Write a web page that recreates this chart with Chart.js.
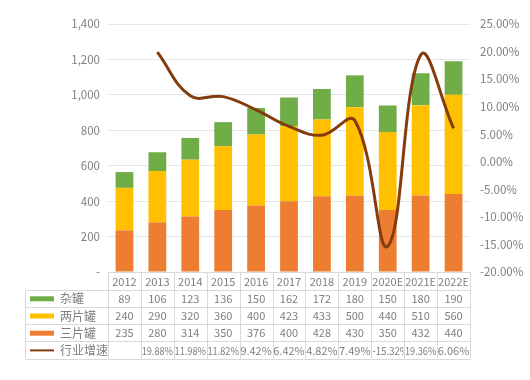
<!DOCTYPE html>
<html><head><meta charset="utf-8">
<script src="https://cdn.jsdelivr.net/npm/chart.js@4/dist/chart.umd.min.js"></script>
<style>html,body{margin:0;padding:0;background:#fff}#wrap{width:530px;height:380px}</style>
</head><body><div id="wrap"><canvas id="c" width="530" height="380"></canvas></div>
<script>
const categories = ['2012','2013','2014','2015','2016','2017','2018','2019','2020E','2021E','2022E'];
const zaGuan = [89,106,123,136,150,162,172,180,150,180,190];
const liangPian = [240,290,320,360,400,423,433,500,440,510,560];
const sanPian = [235,280,314,350,376,400,428,430,350,432,440];
const growth = [null,19.88,11.98,11.82,9.42,6.42,4.82,7.49,-15.32,19.36,6.06];
const leftTicks = [0,200,400,600,800,1000,1200,1400];
const rightTicks = [-20,-15,-10,-5,0,5,10,15,20,25];

const C_GREEN='#70AD47', C_YELLOW='#FFC000', C_ORANGE='#ED7D31', C_LINE='#843C0C';
const FONT = '"Noto Sans CJK SC", "Noto Sans", sans-serif';
const TXT = '#7f7f7f', BORDER = '#d9d9d9';

const tablePlugin = {
  id:'dataTable',
  afterDraw(chart){
    const ctx = chart.ctx, xs = chart.scales.x, ca = chart.chartArea;
    const n = categories.length, w = xs.width / n;
    const rowH = 17.2, top = ca.bottom + 0.5, tableLeft = 25.5;
    const rows = [
      {label:'杂罐', color:C_GREEN, type:'bar', vals:zaGuan.map(v=>String(v))},
      {label:'两片罐', color:C_YELLOW, type:'bar', vals:liangPian.map(v=>String(v))},
      {label:'三片罐', color:C_ORANGE, type:'bar', vals:sanPian.map(v=>String(v))},
      {label:'行业增速', color:C_LINE, type:'line', vals:growth.map(v=>v==null?'':v.toFixed(2)+'%')}
    ];
    ctx.save();
    ctx.strokeStyle = BORDER; ctx.lineWidth = 1;
    const left = Math.round(xs.left)+0.5, right = Math.round(xs.right)+0.5;
    const bottom = top + rowH*5;
    ctx.beginPath();
    ctx.moveTo(left, top); ctx.lineTo(right, top);
    for (let r=1;r<=5;r++){ const y=Math.round(top+rowH*r)+0.5; ctx.moveTo(tableLeft,y); ctx.lineTo(right,y); }
    ctx.moveTo(tableLeft, Math.round(top+rowH)+0.5); ctx.lineTo(tableLeft, bottom);
    for (let i=0;i<=n;i++){ const x=Math.round(xs.left + w*i)+0.5; ctx.moveTo(x, top); ctx.lineTo(x, bottom); }
    ctx.stroke();
    ctx.textBaseline='middle';
    rows.forEach((r,ri)=>{
      const yTop = top + rowH*(ri+1), yc = yTop + rowH/2 + 0.5;
      if (r.type==='bar'){ ctx.fillStyle=r.color; ctx.fillRect(30, yc-2.5, 24, 5); }
      else { ctx.strokeStyle=r.color; ctx.lineWidth=2; ctx.beginPath(); ctx.moveTo(30,yc); ctx.lineTo(54,yc); ctx.stroke(); }
      ctx.font = '12px '+FONT;
      ctx.fillStyle=TXT; ctx.textAlign='left'; ctx.fillText(r.label, 60, yc);
      ctx.font = '11px '+FONT;
      r.vals.forEach((t,i)=>{
        const cl = xs.left + w*i;
        ctx.save(); ctx.beginPath(); ctx.rect(cl+0.5, yTop, w-1, rowH); ctx.clip();
        const tw = ctx.measureText(t).width;
        if (t.charAt(0)==='-' && tw > w-2){ ctx.textAlign='left'; ctx.translate(cl+1, yc); ctx.scale(0.88,1); ctx.fillText(t, 0, 0); }
        else if (tw > w-2){ const s=(w-1.5)/tw; ctx.textAlign='center'; ctx.translate(cl+w/2, yc); ctx.scale(s,1); ctx.fillText(t, 0, 0); }
        else { ctx.textAlign='center'; ctx.fillText(t, cl+w/2, yc); }
        ctx.restore();
      });
    });
    ctx.restore();
  }
};

new Chart(document.getElementById('c'), {
  type:'bar',
  data:{
    labels: categories,
    datasets:[
      {type:'line', label:'行业增速', data:growth, yAxisID:'y1', borderColor:C_LINE, borderWidth:3, pointRadius:0, tension:0.4, fill:false, order:0, spanGaps:false},
      {label:'三片罐', data:sanPian, backgroundColor:C_ORANGE, stack:'s', order:1},
      {label:'两片罐', data:liangPian, backgroundColor:C_YELLOW, stack:'s', order:1},
      {label:'杂罐', data:zaGuan, backgroundColor:C_GREEN, stack:'s', order:1}
    ]
  },
  options:{
    responsive:false, animation:false,
    layout:{padding:{top:24,bottom:21,left:0,right:0}},
    datasets:{bar:{categoryPercentage:1, barPercentage:0.54}},
    plugins:{legend:{display:false}, tooltip:{enabled:false}},
    scales:{
      x:{stacked:true, grid:{display:false, drawTicks:false}, border:{display:false},
         ticks:{color:TXT, font:{size:11, family:FONT}, padding:3, maxRotation:0, autoSkip:false},
         afterFit(s){ s.height = 87; }},
      y:{stacked:true, min:0, max:1400, position:'left',
         afterBuildTicks(s){ s.ticks = leftTicks.map(v=>({value:v})); },
         grid:{color:'#e6e6e6', drawTicks:false}, border:{display:false},
         ticks:{color:TXT, font:{size:11.5, family:FONT}, padding:8,
           callback:v=> v===0 ? '-' : v.toLocaleString('en-US')},
         afterFit(s){ s.width = 108; }},
      y1:{min:-20, max:25, position:'right',
         afterBuildTicks(s){ s.ticks = rightTicks.map(v=>({value:v})); },
         grid:{display:false, drawTicks:false}, border:{display:false},
         ticks:{color:TXT, font:{size:11.5, family:FONT}, padding:10, callback:v=>v.toFixed(2)+'%'},
         afterFit(s){ s.width = 60; }}
    }
  },
  plugins:[tablePlugin]
});
</script></body></html>
